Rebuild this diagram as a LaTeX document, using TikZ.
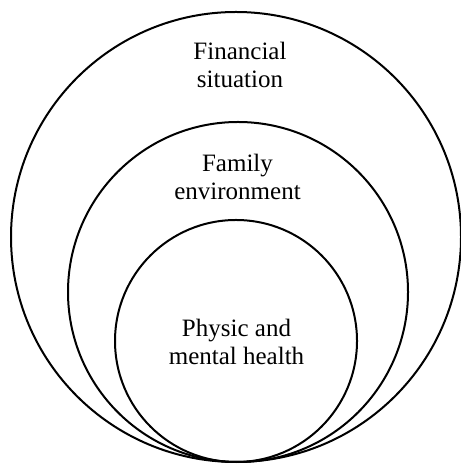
\documentclass[tikz,border=0pt]{standalone}
\usepackage{fontspec}
\setmainfont{Liberation Serif}
\usepackage{tikz}

\begin{document}
\begin{tikzpicture}[
    x=0.5pt, y=0.5pt,
    ring/.style={circle, draw, line width=1pt, inner sep=0pt},
    caption/.style={align=center, font=\fontsize{12.5}{14}\selectfont}]

  \useasboundingbox (0,0) rectangle (460,464);

  % Circles (all touching at the bottom)
  \node[ring, minimum size=225pt] (outer) at (236,227) {};
  \node[ring, minimum size=170pt] (middle) at (238,172) {};
  \node[ring, minimum size=121pt] (inner) at (236,123) {};

  % Labels
  \node[caption] (finance) at (240,399) {Financial\\situation};
  \node[caption] (family) at (237.5,287) {Family\\environment};
  \node[caption] (health) at (236.5,122) {Physic and\\mental health};

\end{tikzpicture}
\end{document}
